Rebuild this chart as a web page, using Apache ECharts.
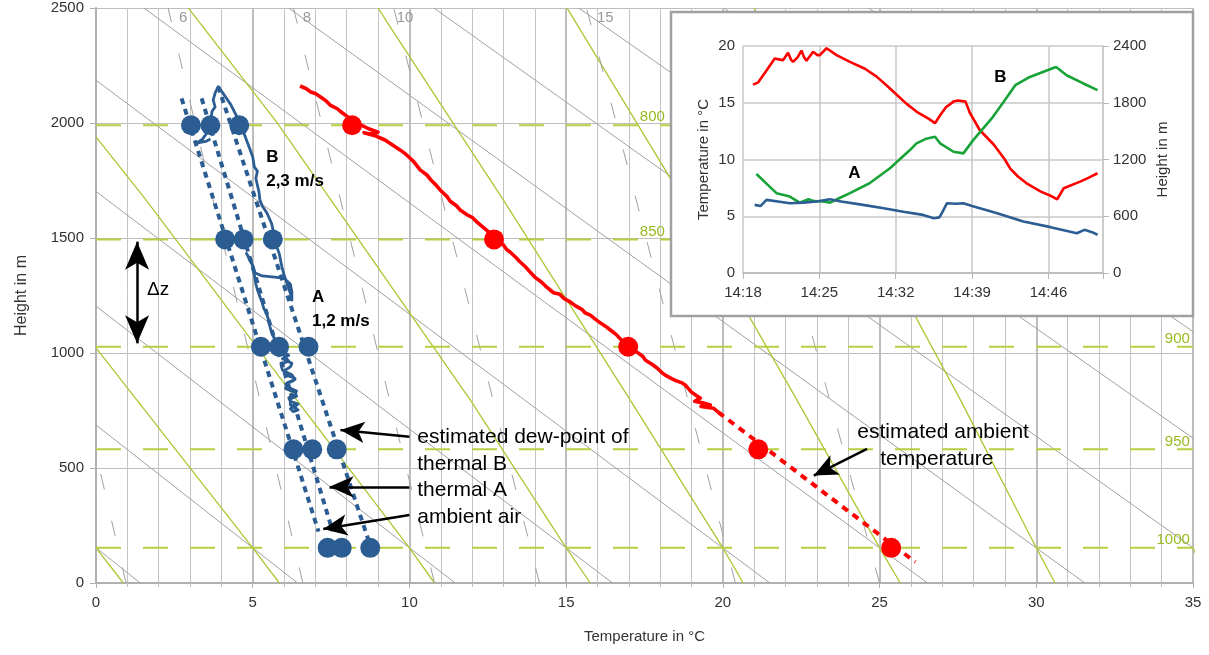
<!DOCTYPE html>
<html><head><meta charset="utf-8">
<script src="https://cdn.jsdelivr.net/npm/echarts@6/dist/echarts.min.js"></script>
<style>html,body{margin:0;padding:0;background:#fff}#c{width:1209px;height:655px}</style>
</head><body><div id="c"></div><script>
// ---------- main chart axes ----------
var xTicks = [0,5,10,15,20,25,30,35];
var yTicks = [0,500,1000,1500,2000,2500];
// pressure levels [hPa, height m]
var pressureLevels = [[800,1990],[850,1494],[900,1027],[950,581],[1000,153]];
// dry adiabats: [T at 0 m, T at 2500 m]
var dryAdiabats = [[1.41,-21.6],[6.43,-16.97],[11.46,-12.34],[16.48,-7.72],[21.5,-3.09],[26.53,1.53],[31.55,6.15],[36.58,10.78],[41.6,15.4],[46.63,20.03],[51.65,24.65]];
// moist adiabats as [T, z] points
var moistAdiabats = [
  [[0.87,0],[0,153]],
  [[5.85,0],[5,153],[1.3,796],[0,1022]],
  [[10.8,0],[10,153],[6.4,796],[1.6,1665],[0,1940]],
  [[15.77,0],[15,153],[11.94,796],[5.77,2003],[3.0,2491],[2.95,2500]],
  [[20.65,0],[20,153],[17.04,796],[13.0,1665],[9.38,2419],[9.0,2500]],
  [[25.66,0],[25,153],[22.36,796],[18.32,1760],[15.07,2491],[15.03,2500]],
  [[30.6,0],[30,153],[27.58,796],[24.0,1700],[21.0,2500]],
  [[35.5,0],[35,153]]
];
// mixing ratio lines: [g/kg, T at 0 m, T at 2500 m]
var mixingRatio = [[4,0.96,-3.3],[6,6.6,2.3],[8,10.8,6.3],[10,14.15,9.5],[15,20.4,15.65],[20,25.0,20.0]];
var mixingLabels = [['6',2.78],['8',6.73],['10',9.86],['15',16.25]];

// measured ambient temperature [T, z]
var redTrace = [[6.51,2161],[6.7,2150],[6.85,2135],[7.0,2128],[7.2,2110],[7.35,2095],[7.47,2078],[7.7,2062],[7.8,2050],[8.0,2030],[8.17,2013],[8.4,1995],[8.7,1975],[9.0,1960],[8.75,1952],[8.55,1958],[8.9,1945],[9.22,1926],[9.45,1905],[9.7,1883],[9.85,1868],[10.0,1850],[10.15,1830],[10.34,1796],[10.55,1775],[10.7,1750],[10.85,1730],[10.98,1709],[11.2,1680],[11.3,1660],[11.5,1640],[11.62,1622],[11.85,1600],[12.0,1590],[12.15,1570],[12.26,1557],[12.5,1530],[12.73,1500],[12.9,1480],[13.0,1470],[13.1,1450],[13.21,1439],[13.4,1415],[13.5,1400],[13.7,1375],[13.85,1352],[14.0,1330],[14.2,1310],[14.35,1290],[14.49,1274],[14.6,1262],[14.8,1255],[14.95,1235],[15.13,1222],[15.3,1205],[15.5,1190],[15.6,1175],[15.77,1165],[15.95,1145],[16.1,1130],[16.3,1112],[16.41,1100],[16.6,1080],[16.7,1065],[16.85,1045],[16.98,1030],[17.15,1012],[17.3,1000],[17.45,985],[17.52,970],[17.75,950],[17.9,935],[18.05,915],[18.16,904],[18.35,890],[18.5,880],[18.7,870],[18.8,861],[18.9,845],[19.0,830],[19.15,815],[19.28,804],[19.1,790],[19.4,782],[19.6,774],[19.3,768],[19.7,760],[19.85,743]];
var redEstimated = [[19.85,743],[26.14,91]];
var redCircles = [[8.17,1990],[12.70,1494],[16.98,1027],[21.13,581],[25.37,153]];

// measured dew point [T, z]
var blueTrace = [[6.0,1047],[6.1,1025],[5.95,1010],[6.15,990],[5.95,975],[6.25,955],[6.2,940],[6.0,922],[6.05,905],[6.35,890],[6.3,880],[6.05,865],[6.15,850],[6.4,835],[6.35,820],[6.15,805],[6.2,790],[6.45,778],[6.4,770],[6.2,758],[6.3,745],[6.45,752],[6.4,760],[6.2,775],[6.2,800],[6.4,812],[6.35,830],[6.05,845],[6.1,870],[6.35,885],[6.25,905],[5.95,925],[5.9,950],[6.15,965],[6.0,990],[5.8,1005],[5.75,1030],[5.85,1045],[5.71,1057],[5.6,1090],[5.55,1115],[5.5,1145],[5.45,1170],[5.35,1195],[5.3,1220],[5.23,1245],[5.15,1275],[5.1,1300],[5.05,1340],[5.02,1375],[4.9,1405],[4.85,1420],[4.8,1433],[4.95,1400],[5.05,1350],[5.3,1335],[5.7,1330],[6.0,1325],[6.2,1300],[6.25,1265],[6.25,1230],[6.2,1260],[6.1,1300],[6.0,1340],[5.93,1375],[5.85,1430],[5.75,1470],[5.71,1506],[5.65,1535],[5.6,1564],[5.45,1610],[5.3,1640],[5.23,1665],[5.2,1700],[5.1,1760],[5.15,1790],[5.05,1810],[5.0,1853],[4.9,1890],[4.8,1926],[4.6,2000],[4.45,2040],[4.3,2080],[4.15,2110],[4.05,2130],[3.9,2158],[3.8,2130],[3.74,2100],[3.8,2070],[3.7,2050],[3.65,2000],[3.6,1975],[3.55,1960],[3.4,1930],[3.2,1912],[3.5,1920],[3.65,1930]];
var ambientDew = [3.03,4.12,5.26,6.30,7.39];
var thermalADew = [3.65,4.71,5.84,6.90,7.84];
var thermalBDew = [4.57,5.64,6.78,7.68,8.75];
var ambientLine = [[2.73,2107],[7.10,223]];
var thermalALine = [[3.37,2107],[7.55,225]];
var thermalBLine = [[3.9,2158],[8.72,175]];

// ---------- inset ----------
var insetTimeLabels = ['14:18','14:25','14:32','14:39','14:46'];
// minutes after 14:18
var insetTemp = [[0.92,16.6],[1.4,16.8],[2.2,17.9],[2.91,18.9],[3.4,18.8],[3.67,18.75],[4.13,19.4],[4.4,18.8],[4.59,18.6],[5.0,19.0],[5.36,19.6],[5.6,19.0],[5.82,18.7],[6.43,19.5],[6.8,19.2],[7.04,19.2],[7.66,19.8],[8.58,19.2],[9.8,18.6],[11.18,18.0],[12.25,17.3],[13.2,16.5],[14.09,15.7],[15.0,14.9],[15.93,14.2],[17.0,13.6],[17.6,13.2],[18.07,13.9],[18.6,14.6],[19.3,15.1],[19.7,15.2],[20.4,15.1],[20.8,14.1],[21.7,12.6],[23.0,11.3],[24.0,10.0],[24.5,9.2],[25.2,8.5],[26.0,7.9],[27.3,7.17],[28.2,6.8],[28.8,6.5],[29.4,7.47],[30.9,8.05],[31.7,8.4],[32.5,8.79]];
var insetHeight = [[1.23,1047],[2.2,940],[3.07,844],[4.29,808],[5.2,744],[6.0,780],[6.5,760],[7.35,756],[8.0,744],[8.8,790],[9.8,844],[11.6,949],[13.47,1107],[15.3,1300],[15.9,1371],[16.8,1420],[17.6,1440],[18.07,1371],[19.3,1282],[20.2,1265],[21.1,1405],[22.8,1634],[23.9,1810],[24.96,1986],[26.3,2073],[27.9,2144],[28.7,2178],[29.7,2088],[31.2,2004],[32.5,1933]];
var insetDew = [[1.07,6.0],[1.6,5.9],[2.15,6.44],[3.2,6.3],[4.3,6.14],[5.5,6.2],[6.74,6.3],[7.97,6.5],[9.0,6.3],[11.0,6.0],[12.9,5.7],[14.7,5.4],[16.5,5.12],[17.5,4.83],[18.0,4.9],[18.3,5.4],[18.7,6.15],[19.5,6.1],[20.2,6.15],[21.0,5.9],[23.3,5.27],[25.7,4.53],[28.2,4.04],[30.6,3.5],[31.3,3.8],[32.0,3.6],[32.5,3.37]];

var FONT = 'Liberation Sans';
var BLUE = '#2b5d93', RED = '#ff0000', GREEN = '#17a337', YG = '#a9c832';
var chart = echarts.init(document.getElementById('c'));
var series = [];
dryAdiabats.forEach(function(d){
  series.push({type:'line',xAxisIndex:0,yAxisIndex:0,data:[[d[0],0],[d[1],2500]],symbol:'none',silent:true,z:1,
    lineStyle:{color:'#a0a0a0',width:1}});
});
moistAdiabats.forEach(function(d){
  series.push({type:'line',xAxisIndex:0,yAxisIndex:0,data:d,symbol:'none',silent:true,z:1,
    lineStyle:{color:YG,width:1.3}});
});
mixingRatio.forEach(function(d){
  series.push({type:'line',xAxisIndex:0,yAxisIndex:0,data:[[d[1],0],[d[2],2500]],symbol:'none',silent:true,z:1,
    lineStyle:{color:'#a0a0a0',width:1,type:[16,32]}});
});
pressureLevels.forEach(function(p){
  series.push({type:'line',xAxisIndex:0,yAxisIndex:0,data:[[0,p[1]],[35,p[1]]],symbol:'none',silent:true,z:1,
    lineStyle:{color:'#b8d040',width:2,type:[25,22]}});
});
function dashed(data,color){
  return {type:'line',xAxisIndex:0,yAxisIndex:0,data:data,symbol:'none',z:3,lineStyle:{color:color,width:4,type:[6,5]}};
}
series.push(dashed(ambientLine,BLUE));
series.push(dashed(thermalALine,BLUE));
series.push(dashed(thermalBLine,BLUE));
series.push({type:'line',xAxisIndex:0,yAxisIndex:0,data:blueTrace,symbol:'none',z:3,lineStyle:{color:BLUE,width:2.8,join:'round'}});
series.push({type:'line',xAxisIndex:0,yAxisIndex:0,data:redTrace,symbol:'none',z:3,lineStyle:{color:RED,width:3.6,join:'round'}});
series.push({type:'line',xAxisIndex:0,yAxisIndex:0,data:redEstimated,symbol:'none',z:3,lineStyle:{color:RED,width:4,type:[7,6]}});
function circles(vals,color){
  return {type:'scatter',xAxisIndex:0,yAxisIndex:0,z:4,symbolSize:20,itemStyle:{color:color,opacity:1},
    data:vals.map(function(v,i){return [v,pressureLevels[i][1]];})};
}
series.push(circles(ambientDew,BLUE));
series.push(circles(thermalADew,BLUE));
series.push(circles(thermalBDew,BLUE));
series.push(circles(redCircles.map(function(c){return c[0];}),RED));
// arrows [from, to]
var arrowLines = [
  [[10.0,636],[7.8,665]],
  [[10.0,418],[7.45,418]],
  [[10.0,296],[7.25,235]],
  [[24.6,583],[22.9,467]]
];
var dzArrow = [[1.31,1042],[1.31,1484]];
series.push({type:'line',xAxisIndex:0,yAxisIndex:0,data:[],z:5,silent:true,
  markLine:{silent:true,animation:false,symbol:['none','arrow'],symbolSize:[16,24],label:{show:false},
    lineStyle:{color:'#000',width:2.5,type:'solid'},
    data:arrowLines.map(function(a){return [{coord:a[0]},{coord:a[1]}];}).concat([
      [{coord:dzArrow[0],symbol:'arrow',symbolSize:[18,28]},{coord:dzArrow[1],symbol:'arrow',symbolSize:[18,28]}]
    ])}});
// inset series
series.push({type:'line',xAxisIndex:1,yAxisIndex:1,data:insetTemp,symbol:'none',z:62,lineStyle:{color:RED,width:2.6}});
series.push({type:'line',xAxisIndex:1,yAxisIndex:2,data:insetHeight,symbol:'none',z:62,lineStyle:{color:GREEN,width:2.6}});
series.push({type:'line',xAxisIndex:1,yAxisIndex:1,data:insetDew,symbol:'none',z:62,lineStyle:{color:BLUE,width:2.6}});

var axisLabelStyle = {color:'#333',fontFamily:FONT,fontSize:15};
var option = {
  animation:false,
  textStyle:{fontFamily:FONT},
  grid:[{left:96,right:16,top:8,bottom:72,containLabel:false},
        {left:743,top:46,width:360,height:227,z:60}],
  xAxis:[
    {type:'value',gridIndex:0,min:0,max:35,interval:5,
     name:'Temperature in °C',nameLocation:'middle',nameGap:46,nameTextStyle:{color:'#333',fontSize:15,fontFamily:FONT},
     axisLine:{show:true,lineStyle:{color:'#b0b0b0',width:2}},axisTick:{show:true,length:5,lineStyle:{color:'#b0b0b0'}},
     axisLabel:Object.assign({margin:12,formatter:function(v){return xTicks.indexOf(v)>=0?String(v):'';}},axisLabelStyle),
     splitLine:{show:true,lineStyle:{color:'#bdbdbd',width:2}},
     minorTick:{show:true,splitNumber:5,length:4,lineStyle:{color:'#bdbdbd'}},
     minorSplitLine:{show:true,lineStyle:{color:'#c4c4c4',width:1}}},
    {type:'value',gridIndex:1,min:0,max:33,interval:7,z:60,
     axisLine:{show:true,lineStyle:{color:'#b8b8b8',width:1.5}},axisTick:{show:true,length:6,lineStyle:{color:'#b8b8b8'}},
     axisLabel:Object.assign({margin:12,formatter:function(v){return insetTimeLabels[Math.round(v/7)]||'';}},axisLabelStyle),
     splitLine:{show:true,lineStyle:{color:'#c8c8c8',width:1.5}}}
  ],
  yAxis:[
    {type:'value',gridIndex:0,min:0,max:2500,interval:500,
     name:'Height in m',nameLocation:'middle',nameGap:66,nameRotate:90,nameTextStyle:{color:'#333',fontSize:16,fontFamily:FONT},
     axisLine:{show:true,lineStyle:{color:'#b0b0b0',width:2}},axisTick:{show:true,length:6,lineStyle:{color:'#b0b0b0'}},
     axisLabel:Object.assign({margin:12,formatter:function(v){return yTicks.indexOf(v)>=0?String(v):'';}},axisLabelStyle),
     splitLine:{show:true,lineStyle:{color:'#bdbdbd',width:1}}},
    {type:'value',gridIndex:1,min:0,max:20,interval:5,position:'left',z:60,
     name:'Temperature in °C',nameLocation:'middle',nameGap:32,nameRotate:90,nameTextStyle:{color:'#333',fontSize:15,fontFamily:FONT},
     axisLine:{show:false},axisTick:{show:false},axisLabel:Object.assign({margin:8},axisLabelStyle),
     splitLine:{show:true,lineStyle:{color:'#c8c8c8',width:1.5}}},
    {type:'value',gridIndex:1,min:0,max:2400,interval:600,position:'right',z:60,
     name:'Height in m',nameLocation:'middle',nameGap:52,nameRotate:90,nameTextStyle:{color:'#333',fontSize:15,fontFamily:FONT},
     axisLine:{show:true,lineStyle:{color:'#c8c8c8',width:1.5}},axisTick:{show:true,length:6,lineStyle:{color:'#b8b8b8'}},
     axisLabel:Object.assign({margin:10,formatter:function(v){return String(v);}},axisLabelStyle),splitLine:{show:false}}
  ],
  series:series
};
chart.setOption(option);

function px(p){return chart.convertToPixel({xAxisIndex:0,yAxisIndex:0},p);}
function ipx(p){return chart.convertToPixel({xAxisIndex:1,yAxisIndex:1},p);}
var texts = [
  {t:'B',p:[5.43,1852],s:17,w:'bold'},
  {t:'2,3 m/s',p:[5.43,1748],s:17,w:'bold'},
  {t:'A',p:[6.89,1243],s:17,w:'bold'},
  {t:'1,2 m/s',p:[6.89,1139],s:17,w:'bold'},
  {t:'Δz',p:[1.63,1274],s:19,w:'normal'},
  {t:'estimated dew-point of',p:[10.25,635],s:21,w:'normal'},
  {t:'thermal B',p:[10.25,517],s:21,w:'normal'},
  {t:'thermal A',p:[10.25,404],s:21,w:'normal'},
  {t:'ambient air',p:[10.25,287],s:21,w:'normal'},
  {t:'estimated ambient',p:[24.29,657],s:21,w:'normal'},
  {t:'temperature',p:[25.02,539],s:21,w:'normal'}
];
var graphics = [];
// inset frame
graphics.push({type:'rect',shape:{x:671,y:12,width:522,height:304},z:50,
  style:{fill:'#fff',stroke:'#a0a0a0',lineWidth:2.5}});
texts.forEach(function(o){
  var q = px(o.p);
  graphics.push({type:'text',x:q[0],y:q[1],z:40,style:{text:o.t,fill:'#000',fontSize:o.s,fontWeight:o.w,fontFamily:FONT,verticalAlign:'middle'}});
});
mixingLabels.forEach(function(m){
  var q = px([m[1],2457]);
  graphics.push({type:'text',x:q[0],y:q[1],z:40,style:{text:m[0],fill:'#999',fontSize:15,fontFamily:FONT,align:'center',verticalAlign:'middle'}});
});
// pressure labels (800/850 left of inset, others at right edge)
var pressLabelX = [18.15,18.15,34.9,34.9,34.9];
pressureLevels.forEach(function(p,i){
  var q = px([pressLabelX[i],p[1]]);
  graphics.push({type:'text',x:q[0],y:q[1]-8,z:40,style:{text:String(p[0]),fill:'#99bb22',fontSize:15,fontFamily:FONT,align:'right',verticalAlign:'middle'}});
});
// inset labels
[['A',[10.2,8.8]],['B',[23.6,17.2]]].forEach(function(o){
  var q = ipx(o[1]);
  graphics.push({type:'text',x:q[0],y:q[1],z:70,style:{text:o[0],fill:'#000',fontSize:17,fontWeight:'bold',fontFamily:FONT,align:'center',verticalAlign:'middle'}});
});
chart.setOption({graphic:{elements:graphics}});
</script></body></html>
